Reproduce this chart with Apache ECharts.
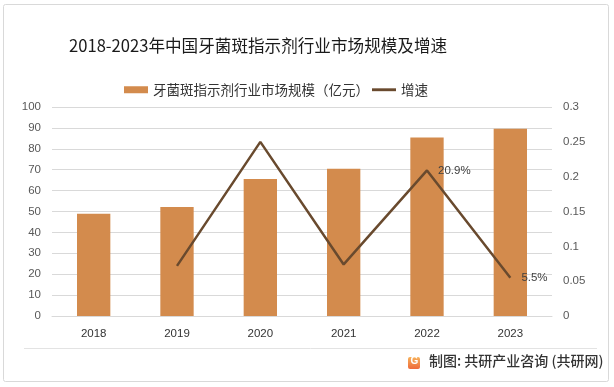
<!DOCTYPE html>
<html><head><meta charset="utf-8">
<script src="https://cdn.jsdelivr.net/npm/echarts@6/dist/echarts.min.js"></script>
<style>html,body{margin:0;padding:0;background:#fff}#c{width:614px;height:387px}</style>
</head><body><div id="c"></div>
<script>
const categories = ['2018','2019','2020','2021','2022','2023'];
const marketSize = [48.9, 52.2, 65.6, 70.4, 85.4, 89.6];
const growth = [null, 0.072, 0.250, 0.074, 0.209, 0.055];
const growthLabels = ['', '', '', '', '20.9%', '5.5%'];
const leftTicks = {min:0, max:100, interval:10};
const rightTicks = {min:0, max:0.3, interval:0.05};

const chart = echarts.init(document.getElementById('c'), null, {renderer:'canvas'});
const font = '"Noto Sans CJK SC","Noto Sans",sans-serif';
chart.setOption({
  animation:false,
  backgroundColor:'#fff',
  title:{text:'2018-2023年中国牙菌斑指示剂行业市场规模及增速', left:64, top:32,
    textStyle:{fontFamily:font, fontSize:16.6, fontWeight:'normal', color:'#1a1a1a'}},
  legend:{top:78, left:119, itemGap:3, itemWidth:24, itemHeight:7,
    textStyle:{fontFamily:font, fontSize:13.5, color:'#333'},
    data:[{name:'牙菌斑指示剂行业市场规模（亿元）', icon:'rect'},
          {name:'增速', icon:'path://M0,0 L25,0 L25,3 L0,3 Z', itemStyle:{color:'#694a2e', opacity:1}}]},
  grid:{left:52, right:62, top:107, bottom:71},
  xAxis:{type:'category', data:categories,
    axisLine:{lineStyle:{color:'#d9d9d9'}}, axisTick:{show:false},
    axisLabel:{color:'#333', fontSize:11.5, margin:12, fontFamily:'"Liberation Sans",sans-serif'}},
  yAxis:[
    {type:'value', min:leftTicks.min, max:leftTicks.max, interval:leftTicks.interval,
     splitLine:{lineStyle:{color:'#d9d9d9'}}, axisLine:{show:false}, axisTick:{show:false},
     axisLabel:{color:'#595959', fontSize:11.5, margin:11, fontFamily:'"Liberation Sans",sans-serif'}},
    {type:'value', min:rightTicks.min, max:rightTicks.max, interval:rightTicks.interval,
     splitLine:{show:false}, axisLine:{show:false}, axisTick:{show:false},
     axisLabel:{color:'#595959', fontSize:11.5, margin:11, fontFamily:'"Liberation Sans",sans-serif'}}
  ],
  series:[
    {name:'牙菌斑指示剂行业市场规模（亿元）', type:'bar', data:marketSize, barWidth:'40%',
     itemStyle:{color:'#d38b4d'}},
    {name:'增速', type:'line', yAxisIndex:1, data:growth, symbol:'circle', symbolSize:0.1, showSymbol:true,
     lineStyle:{color:'#694a2e', width:2.5}, itemStyle:{color:'#694a2e'},
     label:{show:true, position:'right', distance:11, color:'#404040', fontSize:11.5,
       fontFamily:'"Liberation Sans",sans-serif',
       formatter:p=>growthLabels[p.dataIndex]}}
  ],
  graphic:[
    {type:'rect', shape:{x:3.5, y:4.5, width:605, height:377, r:2}, style:{fill:'none', stroke:'#d9d9d9', lineWidth:1}, z:-1},
    {type:'line', shape:{x1:24, y1:348.5, x2:597, y2:348.5}, style:{stroke:'#e3e3e3', lineWidth:1}},
    {type:'rect', shape:{x:408, y:357, width:12, height:12, r:2},
     style:{fill:new echarts.graphic.LinearGradient(0,0,0,1,[{offset:0,color:'#f7b15a'},{offset:1,color:'#ee6a3a'}])}},
    {type:'text', left:410.5, top:356.5, style:{text:'G', fill:'#fff', font:'bold 10px "Liberation Sans",sans-serif'}},
    {type:'text', left:429, top:354, style:{text:'制图: 共研产业咨询 (共研网)', fill:'#333', font:'500 14px "Noto Sans CJK SC",sans-serif'}}
  ]
});
</script></body></html>
